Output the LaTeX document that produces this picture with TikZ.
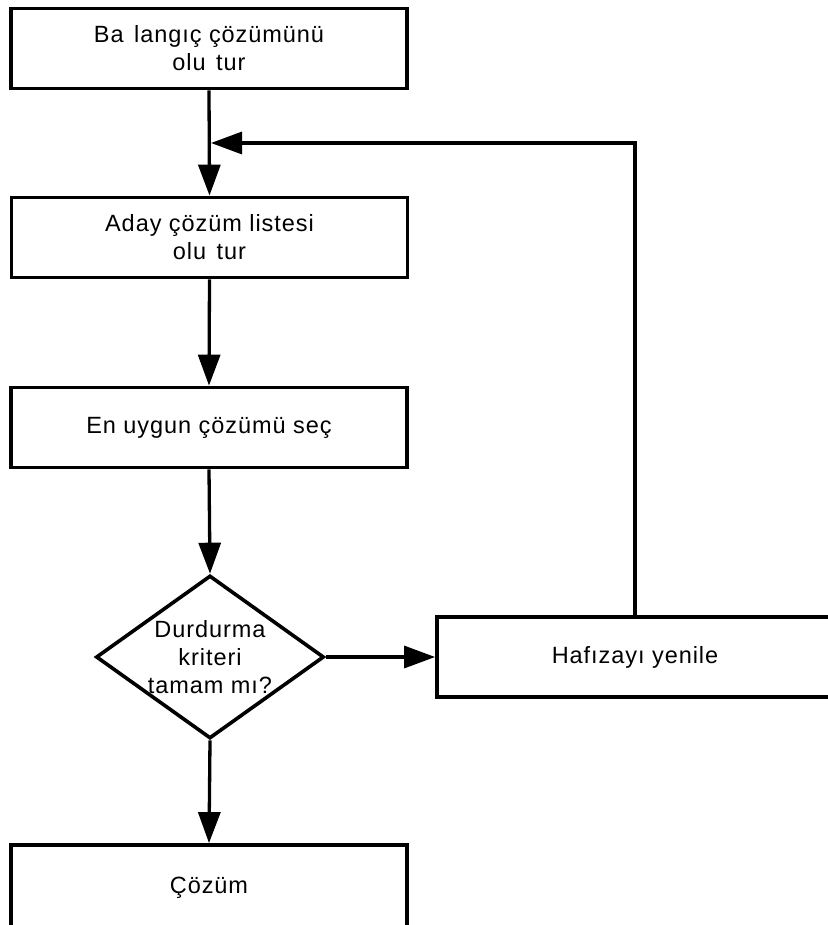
\documentclass[tikz,border=0pt]{standalone}
\usepackage{fontspec}
\setmainfont{Liberation Sans}[LetterSpace=4]
\usetikzlibrary{arrows.meta,shapes.geometric}

\tikzset{
  flowbox/.style={draw, line width=3.8pt, minimum width=396pt, minimum height=80pt,
    inner sep=0pt, align=center, font=\fontsize{23.5}{28}\selectfont},
  decision/.style={draw, shape=diamond, line width=3.6pt, minimum width=228pt,
    minimum height=163pt, inner sep=-16pt, align=center, font=\fontsize{23.5}{28}\selectfont},
  flow/.style={line width=3.3pt, -{Triangle[length=31pt, width=22pt]}},
}

\begin{document}
\begin{tikzpicture}[x=1pt, y=-1pt]
  \useasboundingbox (0,0) rectangle (827,925);

  % main column of steps
  \node[flowbox] (start)  at (209,48.5) {Ba\hspace{0.45em}langıç çözümünü\\olu\hspace{0.45em}tur};
  \node[flowbox] (cand)   at (209.5,237.5) {Aday çözüm listesi\\olu\hspace{0.45em}tur};
  \node[flowbox] (best)   at (209,427.5) {En uygun çözümü seç};
  \node[decision] (stop)  at (210,657) {Durdurma\\kriteri\\tamam mı?};
  \node[flowbox] (memory) at (635,657) {Hafızayı yenile};
  \node[flowbox, minimum height=86pt] (result) at (209,888) {Çözüm};

  % point where the loop re-enters the column
  \coordinate (rejoin) at (211,143);

  \draw[flow] (start.south) -- (cand.north);
  \draw[flow] (cand.south) -- (best.north);
  \draw[flow] (best.south) -- (stop.north);
  \draw[flow] (stop.east) -- (memory.west);
  \draw[flow] (stop.south) -- (result.north);
  \draw[flow] (memory.north) |- (rejoin);
\end{tikzpicture}
\end{document}
